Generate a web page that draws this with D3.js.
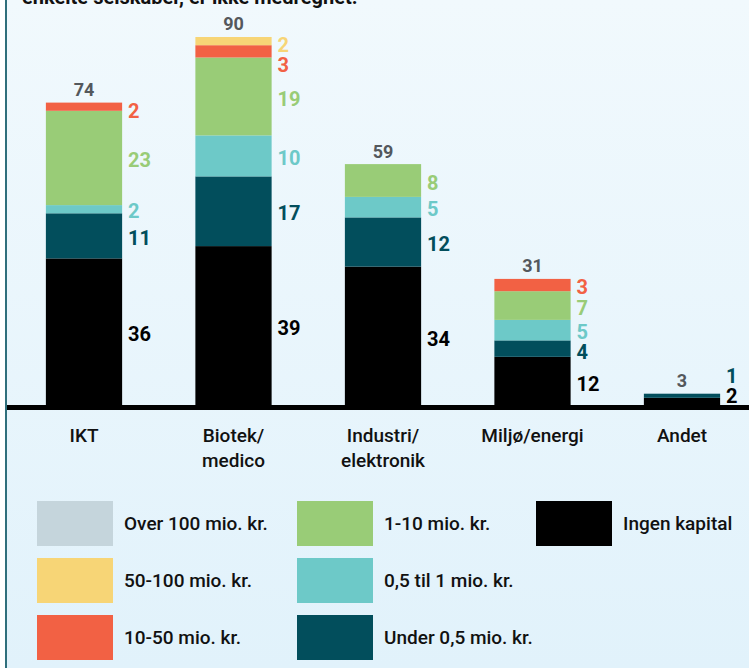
<!DOCTYPE html>
<html>
<head>
<meta charset="utf-8">
<script src="https://cdn.jsdelivr.net/npm/d3@7"></script>
<style>
  html, body { margin: 0; padding: 0; background: #ffffff; }
  svg { display: block; }
  text { font-family: Roboto, "Noto Sans", "DejaVu Sans", sans-serif; }
</style>
</head>
<body>
<svg id="chart" width="749" height="668"></svg>
<script>
// ---- Data ----
const categories = ["IKT", "Biotek/\nmedico", "Industri/\nelektronik", "Miljø/energi", "Andet"];
const seriesNames = ["Ingen kapital", "Under 0,5 mio. kr.", "0,5 til 1 mio. kr.", "1-10 mio. kr.", "10-50 mio. kr.", "50-100 mio. kr.", "Over 100 mio. kr."];
const ingenKapital = [36, 39, 34, 12, 2];
const under05 = [11, 17, 12, 4, 1];
const til1 = [2, 10, 5, 5, 0];
const mio1til10 = [23, 19, 8, 7, 0];
const mio10til50 = [2, 3, 0, 3, 0];
const mio50til100 = [0, 2, 0, 0, 0];
const over100 = [0, 0, 0, 0, 0];
const totals = [74, 90, 59, 31, 3];
const seriesValues = [ingenKapital, under05, til1, mio1til10, mio10til50, mio50til100, over100];
const colors = ["#000000", "#024e5c", "#6dc9c8", "#99cc77", "#f26144", "#f7d576", "#c5d5dc"];
const labelColors = ["#000000", "#024e5c", "#6dc9c8", "#99cc77", "#f26144", "#f7d576", "#c5d5dc"];
const legendOrder = [[6, 5, 4], [3, 2, 1], [0]];
const titleText = "enkelte selskaber, er ikke medregnet.";

// ---- Setup ----
const W = 749, H = 668;
const svg = d3.select("#chart");
const defs = svg.append("defs");
const grad = defs.append("linearGradient").attr("id", "bg").attr("x1", 0).attr("y1", 0).attr("x2", 0).attr("y2", 1);
grad.append("stop").attr("offset", "0%").attr("stop-color", "#f1f9fd");
grad.append("stop").attr("offset", "100%").attr("stop-color", "#e1f2fb");

svg.append("rect").attr("x", 7).attr("y", 0).attr("width", W - 7).attr("height", H).attr("fill", "url(#bg)");
svg.append("rect").attr("x", 5).attr("y", 0).attr("width", 2).attr("height", H).attr("fill", "#2f6f7c");

// title (cut off at top, as in the reference)
svg.append("text").attr("x", 22).attr("y", 4).attr("font-size", 20).attr("font-weight", "bold")
  .attr("fill", "#111").text(titleText);

const baseline = 406;
const x = d3.scaleBand().domain(categories).range([9.25, 756.75]).paddingInner(0.49).paddingOuter(0.245);
const y = d3.scaleLinear().domain([0, 90]).range([baseline, baseline - 369]);

// stacked data
const table = categories.map((c, i) => {
  const o = { cat: c };
  seriesValues.forEach((s, k) => o["s" + k] = s[i]);
  return o;
});
const keys = seriesValues.map((s, k) => "s" + k);
const stacked = d3.stack().keys(keys)(table);

const g = svg.append("g");
stacked.forEach((layer, k) => {
  g.selectAll(null).data(layer.filter(d => d[1] - d[0] > 0)).join("rect")
    .attr("x", d => x(d.data.cat))
    .attr("width", x.bandwidth())
    .attr("y", d => y(d[1]))
    .attr("height", d => y(d[0]) - y(d[1]))
    .attr("fill", colors[k]);
});

// axis line
svg.append("rect").attr("x", 7).attr("y", 405).attr("width", W - 7).attr("height", 5).attr("fill", "#000");

// value labels with collision handling
const gap = 20;
categories.forEach((c, i) => {
  const labs = [];
  stacked.forEach((layer, k) => {
    const d = layer[i];
    if (d[1] - d[0] > 0) {
      labs.push({ k, v: d[1] - d[0], y: (y(d[0]) + y(d[1])) / 2 + 2 });
    }
  });
  labs.reverse();
  const topY = y(totals[i]);
  labs.forEach(l => { l.y = Math.max(l.y, topY + 8); l.y = Math.min(l.y, baseline - 10); });
  for (let j = 1; j < labs.length; j++) labs[j].y = Math.max(labs[j].y, labs[j - 1].y + gap);
  if (labs.length) labs[labs.length - 1].y = Math.min(labs[labs.length - 1].y, baseline - 10);
  for (let j = labs.length - 2; j >= 0; j--) labs[j].y = Math.min(labs[j].y, labs[j + 1].y - gap);
  labs.forEach(l => {
    svg.append("text")
      .attr("x", x(c) + x.bandwidth() + 6)
      .attr("y", l.y)
      .attr("dy", "0.36em")
      .attr("font-size", 20).attr("font-weight", "bold")
      .attr("fill", labelColors[l.k])
      .text(l.v);
  });
  svg.append("text")
    .attr("x", x(c) + x.bandwidth() / 2)
    .attr("y", topY - 13)
    .attr("dy", "0.36em")
    .attr("text-anchor", "middle")
    .attr("font-size", 18).attr("font-weight", "bold")
    .attr("fill", "#54585c")
    .text(totals[i]);
});

// category labels (axis)
const axis = d3.axisBottom(x).tickSize(0).tickFormat("");
const axG = svg.append("g").attr("transform", `translate(0,${baseline})`).call(axis);
axG.select(".domain").remove();
axG.selectAll(".tick").each(function(d) {
  const lines = d.split("\n");
  const t = d3.select(this).append("text")
    .attr("text-anchor", "middle")
    .attr("font-size", 19).attr("font-weight", 500)
    .attr("fill", "#111");
  lines.forEach((ln, j) => {
    t.append("tspan").attr("x", 0).attr("y", 35.5 + j * 25).text(ln);
  });
});

// legend
const colX = [37, 297, 536];
const rowY = [501, 558, 615];
legendOrder.forEach((col, ci) => {
  col.forEach((k, ri) => {
    svg.append("rect").attr("x", colX[ci]).attr("y", rowY[ri]).attr("width", 76).attr("height", 45).attr("fill", colors[k]);
    svg.append("text").attr("x", colX[ci] + 87).attr("y", rowY[ri] + 22.5).attr("dy", "0.36em")
      .attr("font-size", 19).attr("font-weight", 500).attr("fill", "#111").text(seriesNames[k]);
  });
});
</script>
</body>
</html>
